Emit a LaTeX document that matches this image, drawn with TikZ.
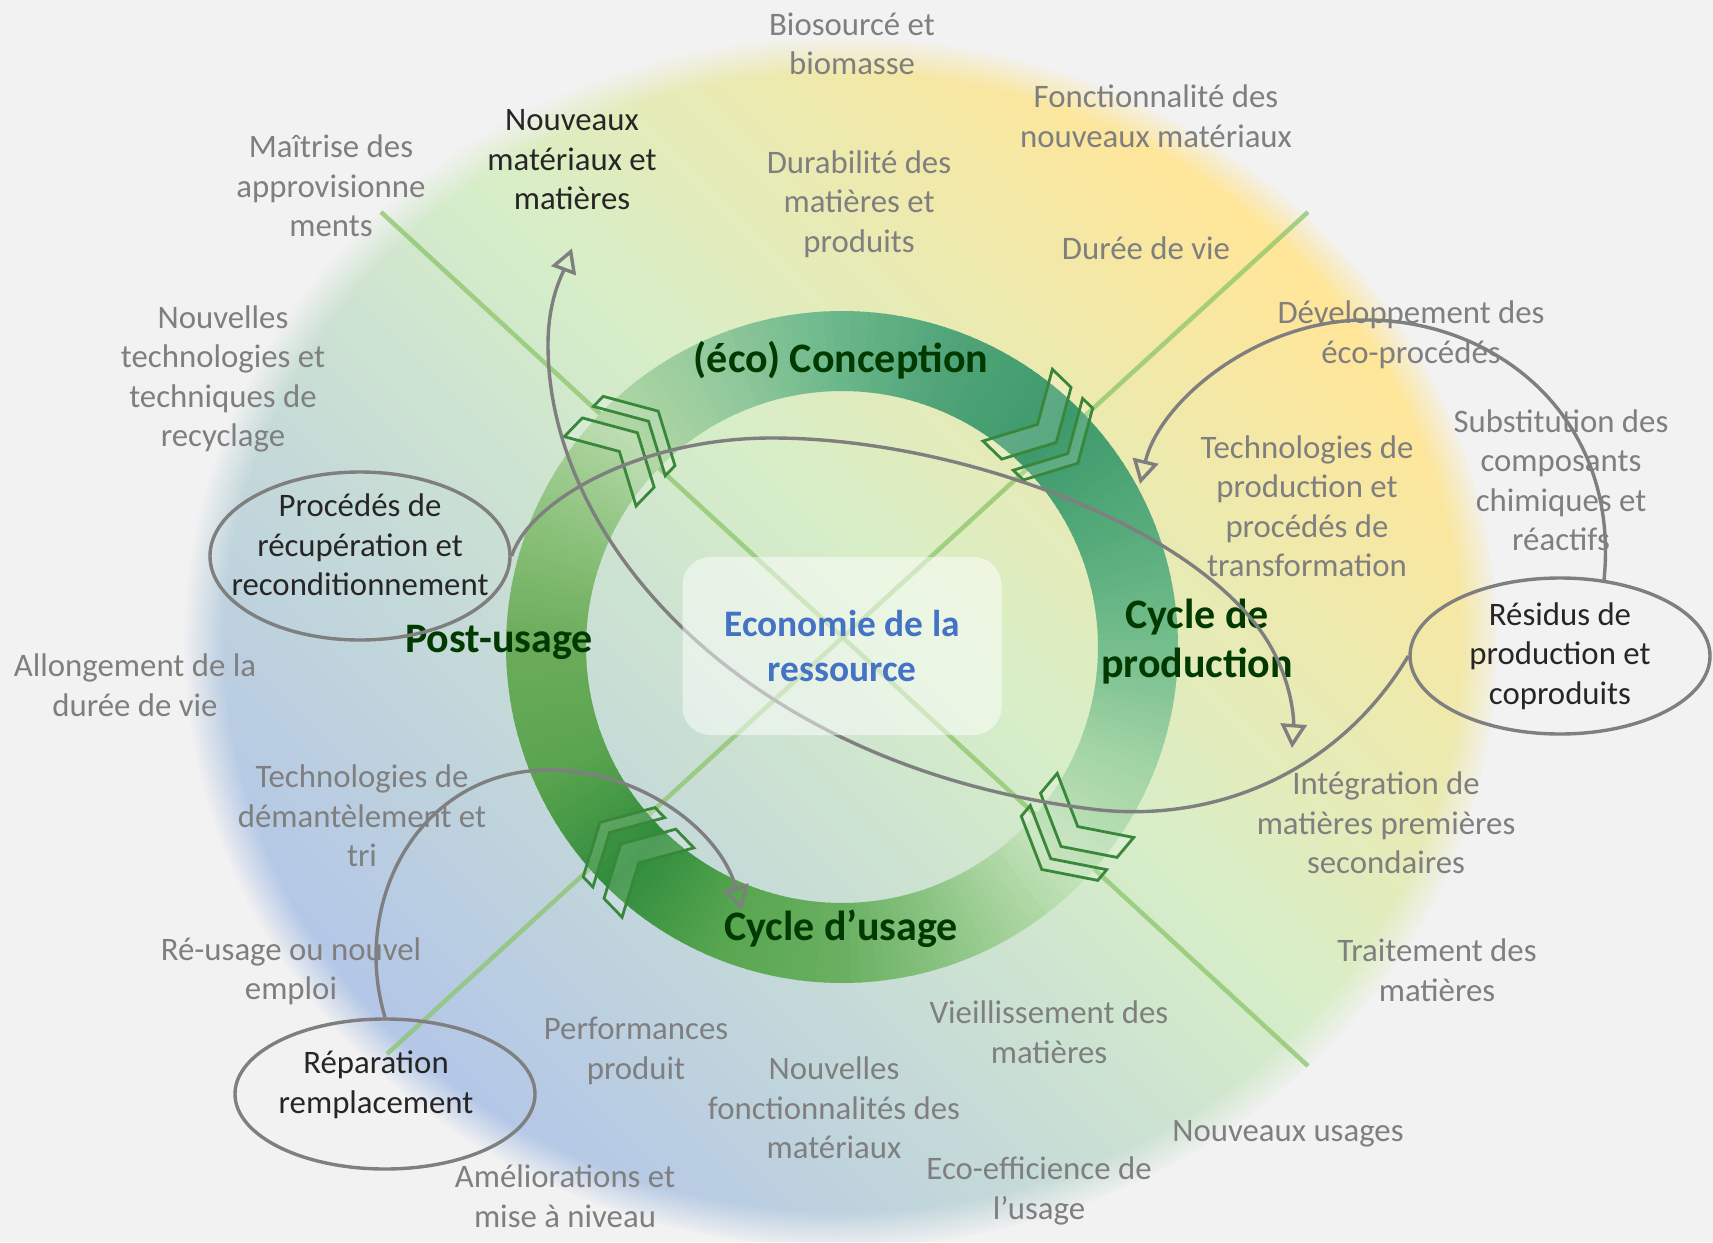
\documentclass[tikz,border=0pt]{standalone}
\usepackage{fontspec}
\setmainfont{Carlito}
\usetikzlibrary{positioning,arrows.meta,fadings,shapes.geometric}

\definecolor{paper}{HTML}{F2F2F2}
\definecolor{bgblue}{HTML}{B4C7E7}
\definecolor{bggreen}{HTML}{D7EEC8}
\definecolor{bgyellow}{HTML}{FFE699}
\definecolor{axisgreen}{HTML}{8CC56A}
\definecolor{chevgreen}{HTML}{38873A}
\definecolor{txtgray}{HTML}{7F7F7F}
\definecolor{ink}{HTML}{262626}
\definecolor{phasegreen}{HTML}{003A00}
\definecolor{coreblue}{HTML}{4472C4}
\definecolor{rc0}{HTML}{74BD8C}
\definecolor{rc1}{HTML}{55AA7A}
\definecolor{rc2}{HTML}{3E9A6C}
\definecolor{rc3}{HTML}{4FA377}
\definecolor{rc4}{HTML}{6AB78B}
\definecolor{rc5}{HTML}{92C99C}
\definecolor{rc6}{HTML}{B2D7A4}
\definecolor{rc7}{HTML}{8AC17A}
\definecolor{rc8}{HTML}{6AAB5A}
\definecolor{rc9}{HTML}{5AA44F}
\definecolor{rc10}{HTML}{2F8C3C}
\definecolor{rc11}{HTML}{58A650}
\definecolor{rc12}{HTML}{6AB062}
\definecolor{rc13}{HTML}{93C98A}
\definecolor{rc14}{HTML}{C4E3BA}
\definecolor{rc15}{HTML}{A2D4A6}

\pgfdeclarehorizontalshading{meadow}{100bp}{color(0bp)=(bgblue); color(27bp)=(bgblue); color(53bp)=(bggreen); color(73bp)=(bgyellow); color(100bp)=(bgyellow)}
\pgfdeclareradialshading{softrimshade}{\pgfpointorigin}{color(0bp)=(pgftransparent!0); color(23.4bp)=(pgftransparent!0); color(25bp)=(pgftransparent!100); color(50bp)=(pgftransparent!100)}
\pgfdeclarefading{softrim}{\pgfuseshading{softrimshade}}

\tikzset{
  chevs/.pic={
    \filldraw[chev] (12,0) -- ++(-27.6,49.9) -- ++(-26,0) -- ++(27.6,-49.9) -- ++(-27.6,-49.9) -- ++(26,0) -- cycle;
    \filldraw[chev] (42,0) -- ++(-27.6,49.9) -- ++(-14,0) -- ++(27.6,-49.9) -- ++(-27.6,-49.9) -- ++(14,0) -- cycle;
  }
}

\begin{document}
\begin{tikzpicture}[x=1pt, y=-1pt,
  soft/.style={align=center, inner sep=0pt, text=txtgray, font=\fontsize{32.8}{39.5}\selectfont},
  inside/.style={soft, text=ink},
  bubble/.style={ellipse, draw=txtgray, line width=3.4pt, inner sep=0pt, minimum width=300pt},
  phase/.style={align=center, inner sep=0pt, text=phasegreen, font=\fontsize{42}{49}\selectfont\bfseries},
  core/.style={align=center, inner sep=0pt, text=coreblue, font=\fontsize{37.4}{45}\selectfont\bfseries,
    fill=white, fill opacity=0.5, text opacity=1, rounded corners=28pt, minimum width=319pt, minimum height=178pt},
  diag/.style={axisgreen, line width=4.5pt, opacity=0.75},
  chev/.style={draw=chevgreen, line width=2.8pt, fill=white, fill opacity=0.15},
  flow/.style={draw=txtgray, line width=3.4pt, -{Triangle[open, length=24pt, width=26pt]}},
]
\fill[paper] (0,0) rectangle (1713,1242);
\useasboundingbox (0,0) rectangle (1713,1242);

\shade[shading=meadow, shading angle=45, path fading=softrim] (842,642) ellipse [x radius=657, y radius=605];

\draw[diag] (381,212) -- (1308,1066);
\draw[diag] (1308,212) -- (387,1054);

\coordinate (hub) at (842,647);
\foreach \v/\ca/\cb in {0/rc0/rc1, 22.5/rc1/rc2, 45/rc2/rc3, 67.5/rc3/rc4, 90/rc4/rc5, 112.5/rc5/rc6, 135/rc6/rc7, 157.5/rc7/rc8,
    180/rc8/rc9, 202.5/rc9/rc10, 225/rc10/rc11, 247.5/rc11/rc12, 270/rc12/rc13, 292.5/rc13/rc14, 315/rc14/rc15, 337.5/rc15/rc0}
  \foreach \i in {0,...,14}{
    \pgfmathsetmacro\ta{-\v-1.5*\i}
    \pgfmathsetmacro\tb{\ta-1.8}
    \pgfmathtruncatemacro\p{100-\i*100/15}
    \fill[\ca!\p!\cb] (hub) ++(\ta:336) arc[start angle=\ta, end angle=\tb, radius=336]
      -- ++(\tb:-80) arc[start angle=\tb, end angle=\ta, radius=256] -- cycle;
  }

\foreach \a/\r in {-136/46, -46/-44, 40/-130, 136/-226}
  \pic[rotate=\r] at ([shift={(\a:296)}]hub) {chevs};

\node[soft] (bio) at (852,44) {Biosourcé et\\biomasse};
\node[soft] (fonc) at (1156,116) {Fonctionnalité des\\nouveaux matériaux};
\node[soft] (dura) at (859,204) {Durabilité des\\matières et\\produits};
\node[soft] (duree) at (1146,248) {Durée de vie};
\node[soft] (maitr) at (331,186) {Maîtrise des\\approvisionne\\ments};
\node[inside] (nmat) at (572,160) {Nouveaux\\matériaux et\\matières};
\node[soft] (recy) at (223,379) {Nouvelles\\technologies et\\techniques de\\recyclage};
\node[soft] (dev) at (1411,335) {Développement des\\éco-procédés};
\node[soft] (subst) at (1561,480) {Substitution des\\composants\\chimiques et\\réactifs};
\node[soft] (techprod) at (1307,506) {Technologies de\\production et\\procédés de\\transformation};
\node[soft] (allong) at (135,685) {Allongement de la\\durée de vie};
\node[soft] (demant) at (362,816) {Technologies de\\démantèlement et\\tri};
\node[soft] (reuse) at (291,971) {Ré-usage ou nouvel\\emploi};
\node[soft] (perf) at (636,1051) {Performances\\produit};
\node[soft] (nfonc) at (834,1108) {Nouvelles\\fonctionnalités des\\matériaux};
\node[soft] (amel) at (565,1196) {Améliorations et\\mise à niveau};
\node[soft] (ecoeff) at (1039,1191) {Eco-efficience de\\l’usage};
\node[soft] (vieil) at (1049,1032) {Vieillissement des\\matières};
\node[soft] (nusage) at (1288,1134) {Nouveaux usages};
\node[soft] (trait) at (1437,970) {Traitement des\\matières};
\node[soft] (integ) at (1386,823) {Intégration de\\matières premières\\secondaires};

\node[phase] (conc) at (841,360) {(éco) Conception};
\node[phase] (prod) at (1197,642) {Cycle de\\production};
\node[phase] (post) at (499,642) {Post-usage};
\node[phase] (usage) at (841,929) {Cycle d’usage};

\node[bubble, minimum height=168pt, label={[inside, name=recTxt, yshift=11pt]center:{Procédés de\\récupération et\\reconditionnement}}] (rec) at (360,556) {};
\node[bubble, minimum height=156pt, label={[inside, name=resTxt]center:{Résidus de\\production et\\coproduits}}] (res) at (1560,656) {};
\node[bubble, minimum height=150pt, label={[inside, name=repTxt, xshift=-9pt, yshift=9pt]center:{Réparation\\remplacement}}] (rep) at (385,1094) {};

\coordinate[below=38pt of nmat] (matIn);
\coordinate (prodIn) at (1292,748);
\coordinate (techIn) at (1140,484);
\coordinate (usageIn) at (742,910);

\draw[flow] (res.west) .. controls (1340,770) and (1220,822) .. (1100,810)
  .. controls (750,770) and (548,545) .. (548,345) .. controls (548,300) and (562,275) .. (matIn);
\draw[flow] (rec.east) .. controls (530,500) and (640,438) .. (772,438)
  .. controls (950,438) and (1180,520) .. (1260,630) .. controls (1292,674) and (1294,720) .. (prodIn);
\draw[flow] (res.60) .. controls (1620,420) and (1500,322) .. (1370,320)
  .. controls (1260,318) and (1160,400) .. (techIn);
\draw[flow] (rep.north) .. controls (350,900) and (420,770) .. (549,770)
  .. controls (640,770) and (720,830) .. (usageIn);

\node[core] (eco) at (842,646) {Economie de la\\ressource};
\end{tikzpicture}
\end{document}
